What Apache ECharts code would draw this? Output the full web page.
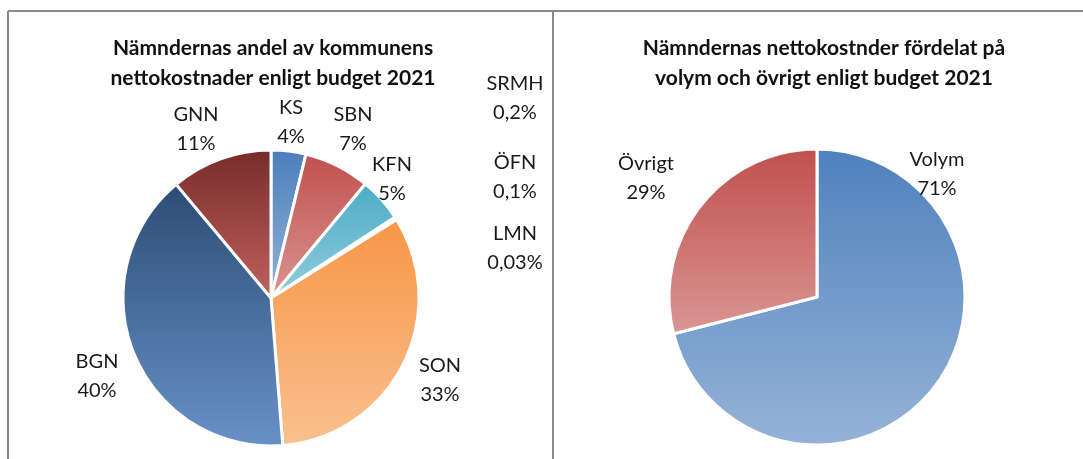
<!DOCTYPE html>
<html>
<head>
<meta charset="utf-8">
<script src="https://cdn.jsdelivr.net/npm/echarts@6/dist/echarts.min.js"></script>
<style>html,body{margin:0;padding:0;background:#fff}#c{width:1083px;height:459px}</style>
</head>
<body>
<div id="c"></div>
<script>
// Data
const leftCategories = ['KS', 'SBN', 'KFN', 'SRMH', 'ÖFN', 'LMN', 'SON', 'BGN', 'GNN'];
const leftValues = [3.8, 7.2, 4.8, 0.2, 0.1, 0.03, 32.6, 40.2, 11.07];
const rightCategories = ['Volym', 'Övrigt'];
const rightValues = [71, 29];
const leftTitle = 'Nämndernas andel av kommunens\nnettokostnader enligt budget 2021';
const rightTitle = 'Nämndernas nettokostnder fördelat på\nvolym och övrigt enligt budget 2021';

// Styles
const leftColors = [
  ['#4a7ebb', '#95b3d7'],
  ['#c0504d', '#d99694'],
  ['#4bacc6', '#92cddc'],
  ['#ffffff', '#ffffff'],
  ['#ffffff', '#ffffff'],
  ['#ffffff', '#ffffff'],
  ['#f79646', '#fac090'],
  ['#2c4c74', '#6891c8'],
  ['#772c2a', '#c0605d']
];
const rightColors = [
  ['#4f81bd', '#95b3d7'],
  ['#c0504d', '#d99694']
];
const leftLabelPos = [
  [291, 122], [353, 129], [392, 179], [515, 98], [515, 177], [515, 248], [440, 380], [97, 376], [196, 129]
];
const rightLabelPos = [[937, 174], [646, 178]];

function grad(c) {
  return { type: 'linear', x: 0, y: 0, x2: 0, y2: 1, colorStops: [{ offset: 0, color: c[0] }, { offset: 1, color: c[1] }] };
}
function fmt(v) {
  return v >= 1 ? Math.round(v) + '%' : String(v).replace('.', ',') + '%';
}
const FONT = 'Lato';
const labelStyle = { show: true, position: 'outside', color: '#1a1a1a', fontFamily: FONT, fontSize: 20, lineHeight: 29, align: 'center' };
const titleStyle = { fontFamily: FONT, fontWeight: 'bold', fontSize: 21, lineHeight: 30, color: '#111' };

const chart = echarts.init(document.getElementById('c'), null, { renderer: 'canvas' });
chart.setOption({
  animation: false,
  backgroundColor: '#fff',
  title: [
    { text: leftTitle, left: 273, top: 33, padding: 0, textAlign: 'center', textStyle: titleStyle },
    { text: rightTitle, left: 824, top: 33, padding: 0, textAlign: 'center', textStyle: titleStyle }
  ],
  graphic: [
    { type: 'line', shape: { x1: 8, y1: 11, x2: 1083, y2: 11 }, style: { stroke: '#8a8a8a', lineWidth: 2 } },
    { type: 'line', shape: { x1: 8, y1: 11, x2: 8, y2: 459 }, style: { stroke: '#8a8a8a', lineWidth: 2 } },
    { type: 'line', shape: { x1: 553, y1: 11, x2: 553, y2: 459 }, style: { stroke: '#8a8a8a', lineWidth: 2 } }
  ],
  series: [
    {
      type: 'pie', center: [271, 298], radius: 148, startAngle: 90, clockwise: true,
      avoidLabelOverlap: false,
      itemStyle: { borderColor: '#fff', borderWidth: 3 },
      label: Object.assign({}, labelStyle, { formatter: p => p.name + '\n' + fmt(p.value) }),
      labelLine: { show: false },
      labelLayout: p => ({ x: leftLabelPos[p.dataIndex][0], y: leftLabelPos[p.dataIndex][1], align: 'center', verticalAlign: 'middle' }),
      emphasis: { disabled: true },
      data: leftCategories.map((n, i) => ({ name: n, value: leftValues[i], itemStyle: { color: grad(leftColors[i]) } }))
    },
    {
      type: 'pie', center: [817, 297], radius: 148, startAngle: 90, clockwise: true,
      avoidLabelOverlap: false,
      itemStyle: { borderColor: '#fff', borderWidth: 3 },
      label: Object.assign({}, labelStyle, { formatter: p => p.name + '\n' + fmt(p.value) }),
      labelLine: { show: false },
      labelLayout: p => ({ x: rightLabelPos[p.dataIndex][0], y: rightLabelPos[p.dataIndex][1], align: 'center', verticalAlign: 'middle' }),
      emphasis: { disabled: true },
      data: rightCategories.map((n, i) => ({ name: n, value: rightValues[i], itemStyle: { color: grad(rightColors[i]) } }))
    }
  ]
});
</script>
</body>
</html>
